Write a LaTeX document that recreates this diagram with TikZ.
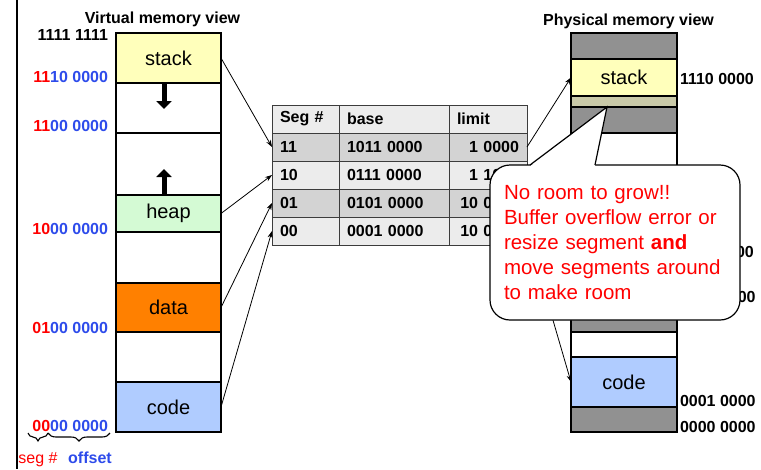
\documentclass[tikz,border=0pt]{standalone}
\usepackage{fontspec}
\setmainfont{Liberation Sans}
\usepackage{tikz}
\usetikzlibrary{positioning}
\usetikzlibrary{arrows.meta,calc,decorations.pathreplacing}
\definecolor{stackyellow}{RGB}{255,255,187}
\definecolor{heapgreen}{RGB}{212,250,212}
\definecolor{dataorange}{RGB}{255,128,0}
\definecolor{codeblue}{RGB}{176,204,255}
\definecolor{physgray}{RGB}{145,145,145}
\definecolor{khaki}{RGB}{201,201,168}
\definecolor{rowlight}{RGB}{236,236,236}
\definecolor{rowdark}{RGB}{211,211,211}
\definecolor{tabline}{RGB}{60,60,60}
\definecolor{segred}{RGB}{255,0,0}
\definecolor{offblue}{RGB}{45,75,235}
\tikzset{
    %Define standard arrow tip
    >=Stealth,
    % Define arrow style
    pil/.style={
           -{Stealth[length=7pt,width=5pt]},
           line width=0.8pt},
    % thick grow arrow
    growarrow/.style={
           -{Triangle[length=8pt,width=15pt]},
           line width=5pt}
}
\newcommand{\colwidth}{105}
\newcommand{\addrfont}{\fontsize{16}{19}\selectfont\bfseries}
\newcommand{\segfont}{\fontsize{20}{24}\selectfont}
\newcommand{\vaddr}[2]{\textcolor{segred}{#1}\textcolor{offblue}{#2}}

\begin{document}
\begin{tikzpicture}[x=1pt, y=-1pt, node distance=0pt, outer sep=0pt]
\useasboundingbox (0,0) rectangle (761,469);
\tikzstyle{vseg}=[ draw, line width=1.8pt,
                  rectangle,
                  minimum width=\colwidth, inner sep=2pt,
                  font=\segfont,
                  anchor=north]
\tikzstyle{pseg}=[ draw, line width=1.8pt,
                  rectangle,
                  minimum width=106, inner sep=2pt,
                  font=\segfont,
                  anchor=north]
\tikzstyle{cell}=[ draw=tabline, line width=0.8pt,
                  rectangle,
                  minimum height=28, inner xsep=8pt, inner ysep=0pt,
                  font=\addrfont,
                  anchor=north west]
\tikzstyle{segcol}=[text width=51, align=left]
\tikzstyle{basecol}=[text width=94, align=left]
\tikzstyle{limcol}=[text width=62, align=right]
\tikzstyle{addr}=[ font=\addrfont, inner sep=0pt]
\tikzstyle{callout}=[ draw, line width=1.2pt, fill=white,
                  rectangle, rounded corners=20,
                  minimum width=250, minimum height=155,
                  inner xsep=14pt, text width=222, align=left,
                  text=segred, font=\fontsize{20.5}{25}\selectfont]
\tikzstyle{bracket}=[ line width=1.1pt, decorate,
                  decoration={brace, mirror, amplitude=8pt}]

% slide frame
\draw[line width=1.3pt] (17,0) -- (17,469);

% virtual memory
\node[addr, anchor=base] (vtitle) at (162.5,23) {Virtual memory view};
\node[vseg, fill=stackyellow, minimum height=50] (vstack) at (168.5,33) {stack};
\node[vseg, fill=white, minimum height=50, below=0 of vstack] (vfree1) {};
\node[vseg, fill=white, minimum height=62, below=0 of vfree1] (vfree2) {};
\node[vseg, fill=heapgreen, minimum height=37, below=0 of vfree2] (vheap) {heap};
\node[vseg, fill=white, minimum height=51, below=0 of vheap] (vfree3) {};
\node[vseg, fill=dataorange, minimum height=49, below=0 of vfree3] (vdata) {data};
\node[vseg, fill=white, minimum height=50, below=0 of vdata] (vfree4) {};
\node[vseg, fill=codeblue, minimum height=50, below=0 of vfree4] (vcode) {code};

\draw[growarrow] ([xshift=-4.5pt]vfree1.north) -- ++(0,26);
\draw[growarrow] ([xshift=-4.5pt]vheap.north) -- ++(0,-26);

\node[addr, anchor=east] (a1111) at (108,35)  {1111 1111};
\node[addr, anchor=east] (a1110) at (108,77)  {\vaddr{11}{10 0000}};
\node[addr, anchor=east] (a1100) at (108,126) {\vaddr{11}{00 0000}};
\node[addr, anchor=east] (a1000) at (108,229) {\vaddr{10}{00 0000}};
\node[addr, anchor=east] (a0100) at (108,328) {\vaddr{01}{00 0000}};
\node[addr, anchor=east] (a0000) at (108,426) {\vaddr{00}{00 0000}};

% seg # / offset braces
\coordinate (bseg1) at (28,433);
\coordinate (bseg2) at (48,433);
\coordinate (boff2) at (110,433);
\draw[bracket] (bseg1) -- (bseg2);
\draw[bracket] (bseg2) -- (boff2);
\node[inner sep=0pt, anchor=base, text=segred, font=\fontsize{16}{19}\selectfont] (seglab) at (38,463) {seg \#};
\node[addr, anchor=base, text=offblue] (offlab) at (90,463) {offset};

% segment table
\node[cell, segcol, fill=rowlight] (thseg) at (272,105) {Seg \#};
\node[cell, basecol, fill=rowlight, right=0 of thseg] (thbase) {base};
\node[cell, limcol, align=left, fill=rowlight, right=0 of thbase] (thlim) {limit};
\node[cell, segcol, fill=rowdark, below=0 of thseg] (t11seg) {11};
\node[cell, basecol, fill=rowdark, right=0 of t11seg] (t11base) {1011 0000};
\node[cell, limcol, fill=rowdark, right=0 of t11base] (t11lim) {1 0000};
\node[cell, segcol, fill=rowlight, below=0 of t11seg] (t10seg) {10};
\node[cell, basecol, fill=rowlight, right=0 of t10seg] (t10base) {0111 0000};
\node[cell, limcol, fill=rowlight, right=0 of t10base] (t10lim) {1 1000};
\node[cell, segcol, fill=rowdark, below=0 of t10seg] (t01seg) {01};
\node[cell, basecol, fill=rowdark, right=0 of t01seg] (t01base) {0101 0000};
\node[cell, limcol, fill=rowdark, right=0 of t01base] (t01lim) {10 0000};
\node[cell, segcol, fill=rowlight, below=0 of t01seg] (t00seg) {00};
\node[cell, basecol, fill=rowlight, right=0 of t00seg] (t00base) {0001 0000};
\node[cell, limcol, fill=rowlight, right=0 of t00base] (t00lim) {10 0000};

% physical memory
\node[addr, anchor=base] (ptitle) at (628.5,25) {Physical memory view};
\node[pseg, fill=physgray, minimum height=26] (pgray1) at (624,33) {};
\node[pseg, fill=stackyellow, minimum height=37, below=0 of pgray1] (pstack) {stack};
\node[pseg, fill=khaki, minimum height=11, below=0 of pstack] (pkhaki) {};
\node[pseg, fill=physgray, minimum height=26, below=0 of pkhaki] (pgray2) {};
\node[pseg, fill=white, minimum height=167, below=0 of pgray2] (pfree1) {};
\node[pseg, fill=physgray, minimum height=32, below=0 of pfree1] (pgray3) {};
\node[pseg, fill=white, minimum height=25, below=0 of pgray3] (pfree2) {};
\node[pseg, fill=codeblue, minimum height=50, below=0 of pfree2] (pcode) {code};
\node[pseg, fill=physgray, minimum height=25, below=0 of pcode] (pgray4) {};

\node[addr, anchor=west] (p1110) at (680,79)  {1110 0000};
\node[addr, anchor=west] (p0111) at (680,252) {0111 0000};
\node[addr, anchor=west] (p0101) at (680,297) {0101 0000};
\node[addr, anchor=west] (p0001) at (680,401) {0001 0000};
\node[addr, anchor=west] (p0000) at (680,427) {0000 0000};

% mapping arrows
\draw[pil] (vstack.east) -- (t11seg.west);
\draw[pil] (vheap.east)  -- (t10seg.west);
\draw[pil] (vdata.east)  -- (t01seg.west);
\draw[pil] (vcode.east)  -- (t00seg.west);
\draw[pil] (t11lim.east) -- (pstack.west);
\draw[pil] (t00lim.east) -- (pcode.west);

% callout
\node[callout] (note) at (615,242.5)
      {No room to grow!!\\Buffer overflow error or\\resize segment \textbf{and}\\move segments around\\to make room};
\coordinate (tip) at (607,107);
\coordinate (pleft) at ($(note.north west)+(40,0)$);
\coordinate (pright) at ($(note.north west)+(105,0)$);
\fill[white] ($(pleft)+(0,1.2)$) -- (tip) -- ($(pright)+(0,1.2)$) -- cycle;
\draw[line width=1.2pt] (pleft) -- (tip) -- (pright);

\end{tikzpicture}
\end{document}
